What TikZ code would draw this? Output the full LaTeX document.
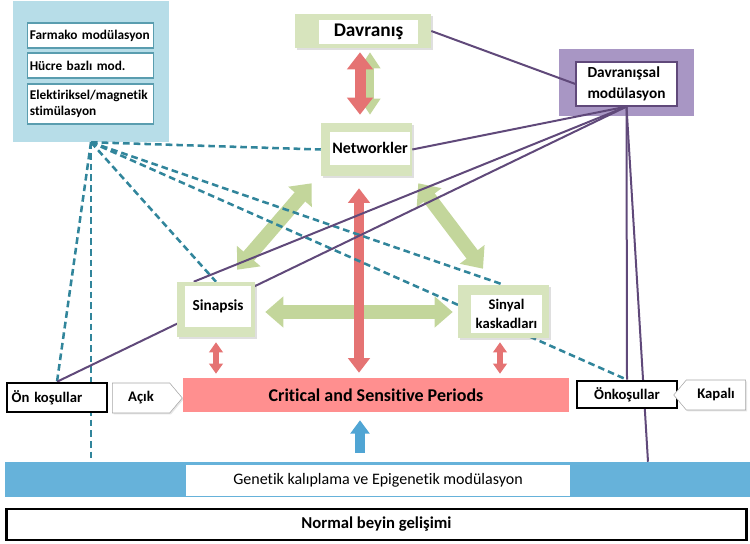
\documentclass[tikz,border=0pt]{standalone}
\usepackage{fontspec}
\setmainfont{Carlito}[Ligatures=NoCommon]
\usetikzlibrary{arrows.meta,calc,shapes.symbols,shadows}
\pgfdeclarelayer{back}
\pgfdeclarelayer{links}
\pgfsetlayers{back,links,main}

\definecolor{boxgreen}{RGB}{215,228,189}
\definecolor{arrgreen}{RGB}{195,214,155}
\definecolor{arrred}{RGB}{229,115,115}
\definecolor{critpink}{RGB}{255,143,143}
\definecolor{panelblue}{RGB}{183,221,232}
\definecolor{tealline}{RGB}{49,133,155}
\definecolor{modpurple}{RGB}{168,150,196}
\definecolor{linepurple}{RGB}{96,73,122}
\definecolor{barblue}{RGB}{102,178,218}
\definecolor{arrblue}{RGB}{80,165,212}

\tikzset{every picture/.style={line width=0.75pt}}
\tikzset{
  greenbox/.style={fill=boxgreen, inner sep=0pt, drop shadow={opacity=0.25,shadow xshift=1.2pt,shadow yshift=-1.2pt}},
  whitetext/.style={fill=white, inner sep=0pt, align=center},
  modbox/.style={draw=tealline!80, fill=white, line width=0.9pt, inner sep=2pt, align=left, text width=91pt, minimum height=18.75pt, font=\fontsize{10}{11.5}\selectfont\bfseries},
  prebox/.style={draw=black, line width=1.9pt, fill=white, inner sep=0pt, minimum width=75pt, font=\fontsize{11}{13}\selectfont\bfseries},
  tagbox/.style={signal, draw=black!35, fill=white, inner sep=0pt, signal pointer angle=100, minimum width=52.5pt, minimum height=22.5pt, font=\fontsize{11}{13}\selectfont\bfseries, drop shadow={opacity=0.2,shadow xshift=1pt,shadow yshift=-1pt}},
  dashlink/.style={tealline, line width=1.9pt, dash pattern=on 5pt off 3pt},
  purplelink/.style={linepurple, line width=1.5pt},
  greenarrow/.style={arrgreen, line width=10.5pt, {Triangle[width=22.5pt,length=13.5pt]}-{Triangle[width=22.5pt,length=13.5pt]}},
  redarrow/.style={arrred, line width=8.25pt, {Triangle[width=18.75pt,length=12.75pt]}-{Triangle[width=18.75pt,length=12.75pt]}},
  smallred/.style={arrred, line width=4.5pt, {Triangle[width=10pt,length=7.5pt]}-{Triangle[width=10pt,length=7.5pt]}}
}

\begin{document}
\begin{tikzpicture}[x=0.75pt,y=0.75pt,yscale=-1,xscale=1]
\useasboundingbox (0,0) rectangle (750,543);

% back panels
\begin{pgfonlayer}{back}
\node[fill=panelblue, minimum width=117pt, minimum height=105.75pt] (panel) at (91,71.5) {};
\node[fill=modpurple, minimum width=101.25pt, minimum height=50.25pt] (dmod) at (626.5,82.5) {};
\end{pgfonlayer}

% modulation boxes
\node[modbox] (farmako) at (90.5,35.5) {Farmako modülasyon};
\node[modbox] (hucre) at (90.5,65.5) {Hücre bazlı mod.};
\node[modbox, minimum height=30pt] (elektrik) at (90.5,104) {Elektiriksel/magnetik\\stimülasyon};

% green boxes
\node[greenbox, minimum width=102pt, minimum height=25.5pt] (davranis) at (363,31) {};
\node[whitetext, minimum width=74.25pt, minimum height=18pt, font=\fontsize{14.5}{16}\selectfont\bfseries] (davranisT) at (368.5,32) {Davranış};
\node[greenbox, minimum width=68.25pt, minimum height=39.75pt] (networkler) at (366.5,149.5) {};
\node[whitetext, minimum width=60pt, minimum height=24.75pt, font=\fontsize{12}{14}\selectfont\bfseries] (networklerT) at (370,148) {Networkler};
\node[greenbox, minimum width=58.5pt, minimum height=41.25pt] (sinapsis) at (216,309.5) {};
\node[whitetext, minimum width=49.5pt, minimum height=30.75pt, font=\fontsize{11.5}{13}\selectfont\bfseries] (sinapsisT) at (218,306.5) {Sinapsis};
\node[greenbox, minimum width=68.25pt, minimum height=39.75pt] (sinyal) at (503.5,311.5) {};
\node[whitetext, minimum width=53.25pt, minimum height=28.5pt, font=\fontsize{11}{13.75}\selectfont\bfseries] (sinyalT) at (506.5,314) {Sinyal\\kaskadları};

% behavioural modulation
\node[whitetext, draw=linepurple, line width=0.9pt, align=left, minimum width=75.75pt, minimum height=33pt, font=\fontsize{11.5}{15.5}\selectfont\bfseries] (dmodT) at (626.5,84) {Davranışsal\\modülasyon};

% critical periods
\node[fill=critpink, minimum width=289.5pt, minimum height=25.5pt, inner sep=0pt, font=\fontsize{13.5}{15}\selectfont\bfseries] (critical) at (376,395) {Critical and Sensitive Periods};

% preconditions
\node[prebox, minimum height=21.75pt, align=left, text width=68pt] (onkosL) at (57,397.5) {Ön koşullar};
\node[tagbox, signal to=east] (acik) at (141,398) {Açık};
\node[prebox, minimum height=20.25pt] (onkosR) at (627,394.5) {Önkoşullar};
\node[tagbox, signal to=west, minimum width=54pt] (kapali) at (716,395) {Kapalı};

% genetic bar and base
\node[fill=barblue, minimum width=559.5pt, minimum height=26.25pt, inner sep=0pt] (genbar) at (378,479.5) {};
\node[whitetext, minimum width=288pt, minimum height=23pt, font=\fontsize{12}{14}\selectfont] (genT) at (378,480.5) {Genetik kalıplama ve Epigenetik modülasyon};
\node[draw=black, line width=1.9pt, fill=white, minimum width=555pt, minimum height=23pt, inner sep=0pt, font=\fontsize{12.5}{15}\selectfont\bfseries] (normal) at (376.5,524.5) {Normal beyin gelişimi};

\coordinate (barpt) at ($(genbar.north)+(270,0)$);

\begin{pgfonlayer}{links}
% block arrows
\draw[arrgreen, line width=6pt, {Triangle[width=15pt,length=12pt]}-{Triangle[width=15pt,length=12pt]}] ($(davranis.south)+(7,4)$) -- ($(networkler.north)+(3.5,-8)$);
\draw[redarrow] ($(davranis.south)+(-3,4)$) -- ($(networkler.north)+(-6.5,-8)$);
\draw[greenarrow] ($(networkler.south west)+(-9,7)$) -- ($(sinapsis.north)+(21,-12)$);
\draw[greenarrow] ($(networkler.south east)+(6,7)$) -- ($(sinyal.north)+(-20.5,-16)$);
\draw[greenarrow] ($(sinapsis.east)+(10,2.5)$) -- ($(sinyal.west)+(-5,0.5)$);
\draw[redarrow, line width=8pt, {Triangle[width=16pt,length=11pt]}-{Triangle[width=16pt,length=11pt]}] ($(networkler.south)+(-7.5,12)$) -- ($(critical.north)+(-17,-5)$);
\draw[smallred] ($(sinapsis.south)+(0,5)$) -- ($(critical.north)+(-160,-4)$);
\draw[smallred] ($(sinyal.south)+(-3.5,4)$) -- ($(critical.north)+(124,-4)$);
\draw[arrblue, line width=7.5pt, -{Triangle[width=14pt,length=10pt]}] ($(genbar.north)+(-18,-9)$) -- ($(critical.south)+(-16,8)$);

% dashed links
\draw[dashlink] (panel.south) -- (networkler.west);
\draw[dashlink] (panel.south) -- (sinyal.north);
\draw[dashlink] (panel.south) -- (onkosR.north);
\draw[dashlink] (panel.south) -- (sinapsis.north);
\draw[dashlink] (panel.south) -- (onkosL.north);
\draw[dashlink] (panel.south) -- (panel.south |- genbar.north);

% purple links
\draw[purplelink] (davranis.east) -- (dmodT.west);
\draw[purplelink] (dmodT.south) -- (networkler.east);
\draw[purplelink] (dmodT.south) -- ($(sinapsis.north west)+(17,0)$);
\draw[purplelink] (dmodT.south) -- (onkosL.north);
\draw[purplelink] (dmodT.south) -- (onkosR.north);
\draw[purplelink] (dmodT.south) -- (barpt);
\end{pgfonlayer}

\end{tikzpicture}
\end{document}
